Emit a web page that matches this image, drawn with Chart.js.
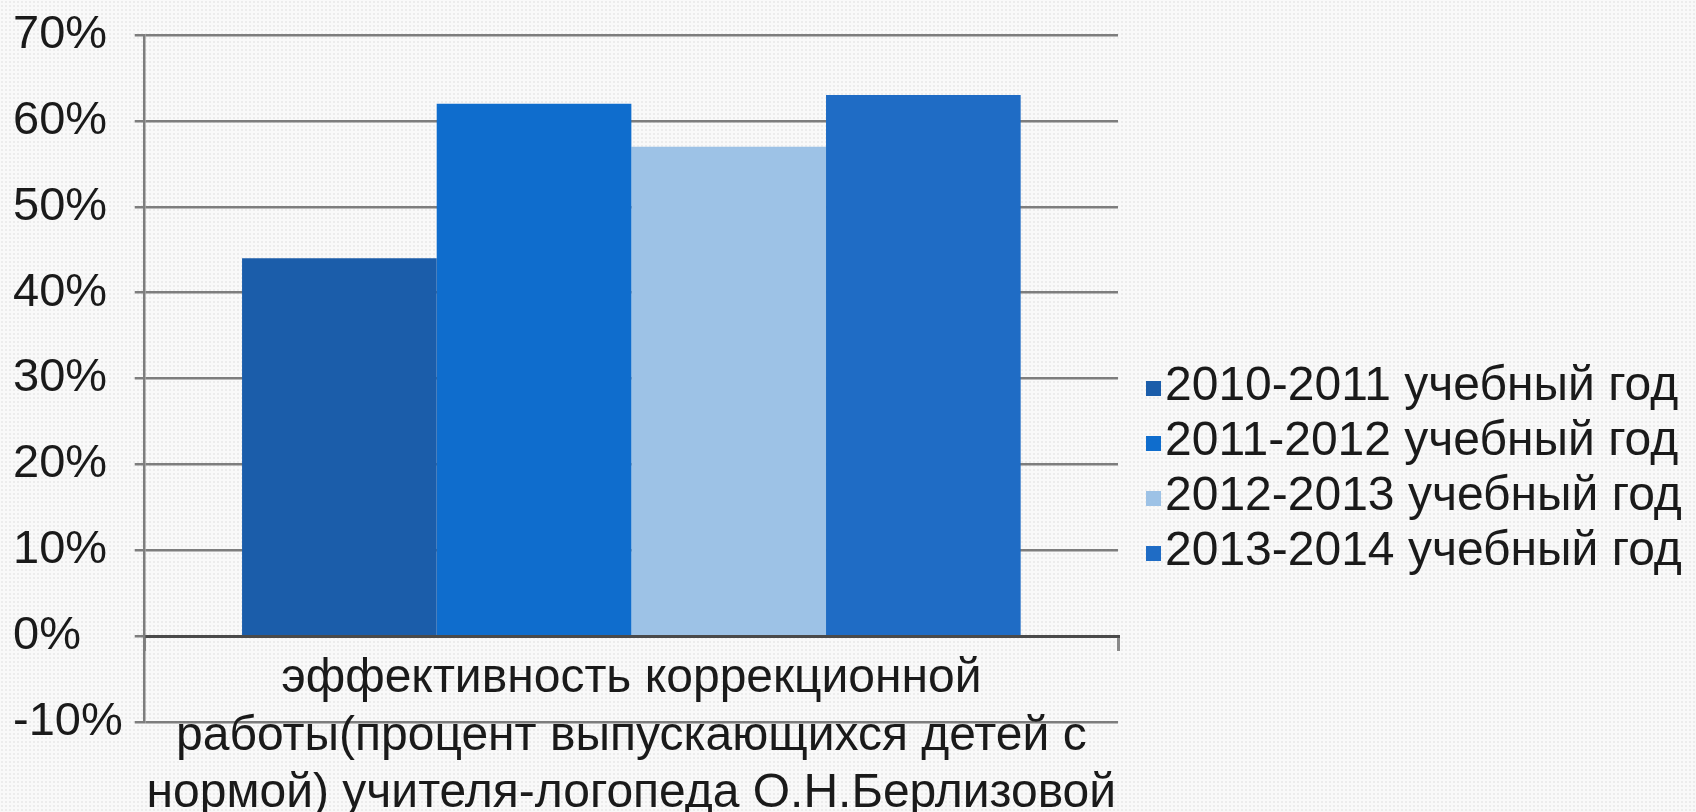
<!DOCTYPE html>
<html>
<head>
<meta charset="utf-8">
<script src="https://cdn.jsdelivr.net/npm/chart.js@4.4.0/dist/chart.umd.min.js"></script>
<style>
  html, body { margin: 0; padding: 0; }
  body {
    width: 1696px; height: 812px; overflow: hidden;
    background-color: #f9f9f9;
    background-image: radial-gradient(#ececec 0.8px, transparent 1px);
    background-size: 4px 4px;
  }
  #wrap { position: relative; width: 1696px; height: 812px; }
</style>
</head>
<body>
<div id="wrap"><canvas id="myChart"></canvas></div>
<script>
// data
const categoryLabel = ['эффективность коррекционной', 'работы(процент выпускающихся детей с', 'нормой) учителя-логопеда О.Н.Берлизовой'];
const seriesNames = ['2010-2011 учебный год', '2011-2012 учебный год', '2012-2013 учебный год', '2013-2014 учебный год'];
const seriesValues = [44, 62, 57, 63];
const seriesColors = ['#1b5daa', '#0f6dcd', '#9dc2e6', '#1f6cc5'];
const yTicks = [-10, 0, 10, 20, 30, 40, 50, 60, 70];

const FONT = 'Liberation Sans, Arial, sans-serif';

//legend drawn by hand so the box/text gap matches
const sideLegend = {
  id: 'sideLegend',
  afterDraw(chart) {
    const ctx = chart.ctx;
    ctx.save();
    ctx.font = '48px ' + FONT;
    ctx.textBaseline = 'middle';
    ctx.textAlign = 'left';
    chart.data.datasets.forEach((ds, i) => {
      let y = 387 + i * 55;
      ctx.fillStyle = ds.backgroundColor;
      ctx.fillRect(1146, y - 6, 15, 15);
      ctx.fillStyle = '#1a1a1a';
      ctx.fillText(ds.label, 1165, y);
    });
    ctx.restore();
  }
};

const datasets = seriesNames.map((name, i) => ({
  label: name,
  data: [seriesValues[i]],
  backgroundColor: seriesColors[i],
  borderWidth: 0,
  barPercentage: 1,
  categoryPercentage: 0.8
}));

new Chart(document.getElementById('myChart'), {
  type: 'bar',
  data: { labels: [categoryLabel], datasets: datasets },
  options: {
    responsive: true,
    maintainAspectRatio: false,
    animation: false,
    layout: { padding: { left: 13, right: 578, top: 35, bottom: 90 } },
    plugins: {
      legend: { display: false },
      tooltip: { enabled: false }
    },
    scales: {
      x: {
        position: { y: 0 },
        grid: { drawOnChartArea: false, tickLength: 13, color: '#8a8a8a', lineWidth: 3 },
        border: { color: '#4a4a4a', width: 3 },
        ticks: {
          color: '#1a1a1a',
          padding: 1,
          maxRotation: 0,
          font: { family: FONT, size: 48, lineHeight: 1.2 }
        }
      },
      y: {
        min: yTicks[0],
        max: yTicks[yTicks.length - 1],
        afterBuildTicks: (axis) => { axis.ticks = yTicks.map(v => ({ value: v })); },
        grid: { color: '#7d7d7d', lineWidth: 2.5, tickLength: 10 },
        border: { color: '#7d7d7d', width: 2.5 },
        ticks: {
          color: '#1a1a1a',
          padding: 6,
          crossAlign: 'far',
          font: { family: FONT, size: 47 },
          callback: (v) => v + '%'
        }
      }
    }
  },
  plugins: [sideLegend]
});
</script>
</body>
</html>
